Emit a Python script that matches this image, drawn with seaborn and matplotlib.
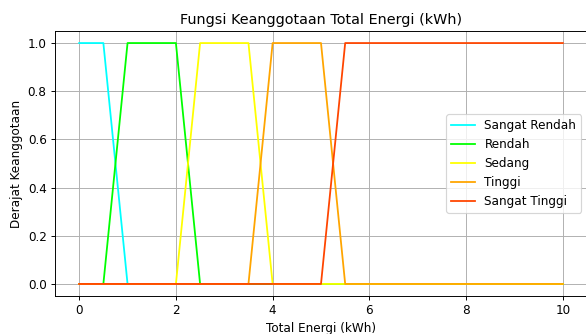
import numpy as np
import pandas as pd
import matplotlib
matplotlib.use('Agg')
import matplotlib.pyplot as plt
import seaborn as sns

# Titik-titik sudut fungsi keanggotaan (trapesium)
energi = [0, 0.5, 1, 2, 2.5, 3.5, 4, 5, 5.5, 10]

sangat_rendah = [1, 1, 0, 0, 0, 0, 0, 0, 0, 0]
rendah        = [0, 0, 1, 1, 0, 0, 0, 0, 0, 0]
sedang        = [0, 0, 0, 0, 1, 1, 0, 0, 0, 0]
tinggi        = [0, 0, 0, 0, 0, 0, 1, 1, 0, 0]
sangat_tinggi = [0, 0, 0, 0, 0, 0, 0, 0, 1, 1]

labels = ['Sangat Rendah', 'Rendah', 'Sedang', 'Tinggi', 'Sangat Tinggi']
colors = ['cyan', 'lime', 'yellow', 'orange', 'orangered']
series = [sangat_rendah, rendah, sedang, tinggi, sangat_tinggi]

DPI = 86
fig = plt.figure(figsize=(586 / DPI, 334 / DPI), dpi=DPI)
ax = fig.add_axes([55 / 586, 1 - 296 / 334, 532 / 586, 265 / 334])

for label, color, values in zip(labels, colors, series):
    df = pd.DataFrame({'x': energi, 'y': values})
    sns.lineplot(data=df, x='x', y='y', ax=ax, color=color, label=label)

ax.set_title('Fungsi Keanggotaan Total Energi (kWh)')
ax.set_xlabel('Total Energi (kWh)')
ax.set_ylabel('Derajat Keanggotaan')
ax.grid(True)
ax.legend(loc='center right')

fig.savefig('out.png', dpi=DPI)
